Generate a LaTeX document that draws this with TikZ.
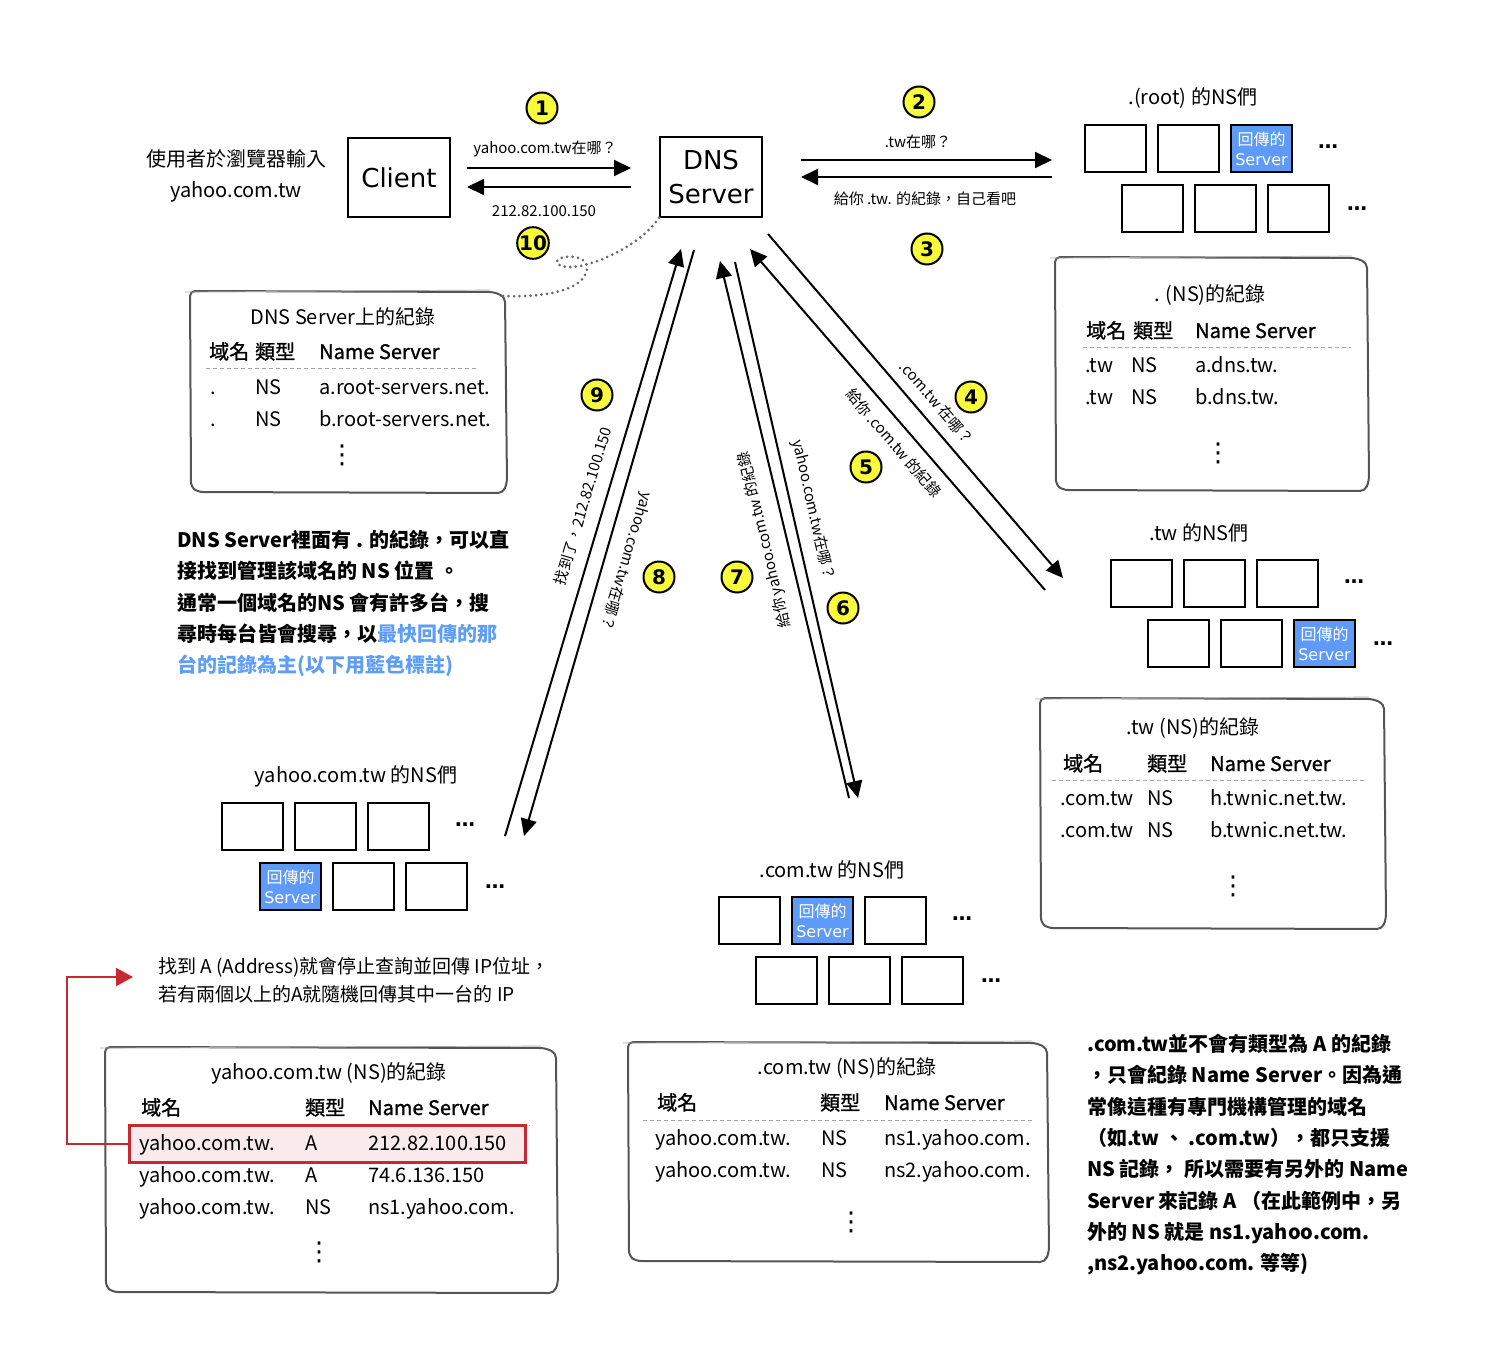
\documentclass[tikz,border=0pt]{standalone}
\usepackage{fontspec}
\setmainfont{Noto Sans CJK TC}
\newfontfamily\dvfont{DejaVu Sans}
\newfontfamily\hdrfont{Noto Sans CJK TC}[FakeBold=1.2]
\usetikzlibrary{arrows.meta, positioning}
\definecolor{numyellow}{RGB}{250,250,60}
\definecolor{retblue}{RGB}{94,155,248}
\definecolor{noteblue}{RGB}{95,158,245}
\definecolor{hitred}{RGB}{200,40,50}
\definecolor{hitpink}{RGB}{249,234,235}
\definecolor{framegray}{RGB}{85,85,85}
\definecolor{memogray}{RGB}{105,105,105}
\tikzstyle{hostbox} = [rectangle, draw=black, line width=2pt, minimum width=102pt, minimum height=79pt, inner sep=0pt, align=center, font=\dvfont\fontsize{26}{34}\selectfont]
\tikzstyle{nsbox} = [rectangle, draw=black, line width=2pt, minimum width=61pt, minimum height=47pt, inner sep=0pt]
\tikzstyle{retbox} = [nsbox, fill=retblue, text=white, align=center, font=\fontsize{16}{20}\selectfont]
\tikzstyle{dotsmore} = [inner sep=0pt, font=\dvfont\bfseries\fontsize{20}{24}\selectfont]
\tikzstyle{numbadge} = [circle, draw=black, line width=2pt, fill=numyellow, minimum size=31pt, inner sep=0pt, font=\dvfont\bfseries\fontsize{20}{24}\selectfont]
\tikzstyle{arrow} = [line width=2pt, -{Triangle[length=17pt, width=16pt]}]
\tikzstyle{hlabel} = [inner sep=0pt, font=\fontsize{15}{18}\selectfont]
\tikzstyle{groupname} = [inner sep=0pt, font=\fontsize{20}{24}\selectfont]
\tikzstyle{rectitle} = [inner sep=0pt, font=\fontsize{20}{24}\selectfont]
\tikzstyle{cell} = [anchor=base west, inner sep=0pt, font=\fontsize{20}{24}\selectfont]
\tikzstyle{headcell} = [cell, font=\hdrfont\fontsize{20}{24}\selectfont]
\tikzstyle{vdots} = [inner sep=0pt, font=\dvfont\fontsize{26}{30}\selectfont]
\tikzstyle{recframe} = [draw=framegray, line width=2pt, rounded corners=5pt]
\tikzstyle{sepline} = [draw=gray!70, line width=0.8pt, dash pattern=on 4pt off 3pt]
\tikzstyle{notetext} = [anchor=north west, inner sep=0pt, align=left, font=\bfseries\fontsize{20}{31.3}\selectfont]
\tikzstyle{memo} = [draw=memogray, line width=3pt, dash pattern=on 0pt off 5.5pt, line cap=round]
\newcommand{\sketchbox}[4]{%
  \draw[recframe] (#1,#2-1) -- (#3-12,#2) -- (#3-1,#2+5) -- (#3+1,#4-10) -- (#3-3,#4) -- (#1+8,#4-1) -- (#1+1,#4-6) -- cycle;
  \draw[draw=gray!70, line width=0.7pt] (#1-5,#2) -- (#3-16,#2-2);
}

\begin{document}
\begin{tikzpicture}[x=1pt, y=-1pt]
\useasboundingbox (0,0) rectangle (1495,1367);

% Client and local DNS server
\node (user) [align=center, font=\fontsize{20}{31}\selectfont] at (236,176) {使用者於瀏覽器輸入\\yahoo.com.tw};
\node (client) [hostbox] at (399,177.5) {Client};
\node (dns) [hostbox] at (711,177) {DNS\\Server};

% Client <-> DNS Server
\coordinate (q1from) at (467,168);
\coordinate (q1to) at (631,168);
\coordinate (a10from) at (631,187);
\coordinate (a10to) at (467,187);
\draw [arrow] (q1from) -- (q1to);
\draw [arrow] (a10from) -- (a10to);
\node (q1lbl) [hlabel] at (545,149) {yahoo.com.tw在哪？};
\node (a10lbl) [hlabel] at (544,211) {212.82.100.150};

% DNS Server <-> root
\coordinate (q2from) at (801,160);
\coordinate (q2to) at (1052,160);
\coordinate (a3from) at (1052,177);
\coordinate (a3to) at (801,177);
\draw [arrow] (q2from) -- (q2to);
\draw [arrow] (a3from) -- (a3to);
\node (q2lbl) [hlabel] at (918,142) {.tw在哪？};
\node (a3lbl) [hlabel] at (925,199) {給你 .tw. 的紀錄，自己看吧};

% root NS group
\node (rootname) [groupname] at (1193,98) {.(root) 的NS們};
\node (root1) [nsbox] at (1115.5,148.5) {};
\node (root2) [nsbox, right=10pt of root1] {};
\node (root3) [retbox, right=10pt of root2] {回傳的\\{\dvfont Server}};
\node (rootmore1) [dotsmore, right=25pt of root3, yshift=2pt] {…};
\node (root4) [nsbox] at (1152.5,208.5) {};
\node (root5) [nsbox, right=10pt of root4] {};
\node (root6) [nsbox, right=10pt of root5] {};
\node (rootmore2) [dotsmore, right=17pt of root6] {…};

% .tw NS group
\node (twname) [groupname] at (1199,533) {.tw 的NS們};
\node (tw1) [nsbox] at (1141.5,583.5) {};
\node (tw2) [nsbox, right=10pt of tw1] {};
\node (tw3) [nsbox, right=10pt of tw2] {};
\node (twmore1) [dotsmore, right=25pt of tw3, yshift=2pt] {…};
\node (tw4) [nsbox] at (1178.5,643.5) {};
\node (tw5) [nsbox, right=10pt of tw4] {};
\node (tw6) [retbox, right=10pt of tw5] {回傳的\\{\dvfont Server}};
\node (twmore2) [dotsmore, right=17pt of tw6] {…};

% yahoo.com.tw NS group
\node (yhname) [groupname] at (356,776) {yahoo.com.tw 的NS們};
\node (yh1) [nsbox] at (252.5,826.5) {};
\node (yh2) [nsbox, right=10pt of yh1] {};
\node (yh3) [nsbox, right=10pt of yh2] {};
\node (yhmore1) [dotsmore, right=25pt of yh3, yshift=2pt] {…};
\node (yh4) [retbox] at (290.5,886.5) {回傳的\\{\dvfont Server}};
\node (yh5) [nsbox, right=10pt of yh4] {};
\node (yh6) [nsbox, right=10pt of yh5] {};
\node (yhmore2) [dotsmore, right=17pt of yh6] {…};

% .com.tw NS group
\node (cmname) [groupname] at (832,870) {.com.tw 的NS們};
\node (cm1) [nsbox] at (749.5,920.5) {};
\node (cm2) [retbox, right=10pt of cm1] {回傳的\\{\dvfont Server}};
\node (cm3) [nsbox, right=10pt of cm2] {};
\node (cmmore1) [dotsmore, right=25pt of cm3, yshift=2pt] {…};
\node (cm4) [nsbox] at (786.5,980.5) {};
\node (cm5) [nsbox, right=10pt of cm4] {};
\node (cm6) [nsbox, right=10pt of cm5] {};
\node (cmmore2) [dotsmore, right=17pt of cm6] {…};

% long query / answer arrows
\coordinate (dnsq4) at (768,234);
\coordinate (twq4) at (1063,578);
\coordinate (twa5) at (1045,590);
\coordinate (dnsa5) at (750,249);
\coordinate (dnsq6) at (735,262);
\coordinate (cmq6) at (858,798);
\coordinate (cma7) at (849,798);
\coordinate (dnsa7) at (720,261);
\coordinate (dnsq8) at (694,250);
\coordinate (yhq8) at (524,836);
\coordinate (yha9) at (505,836);
\coordinate (dnsa9) at (681,249);
\draw [arrow] (dnsq4) -- (twq4);
\draw [arrow] (twa5) -- (dnsa5);
\draw [arrow] (dnsq6) -- (cmq6);
\draw [arrow] (cma7) -- (dnsa7);
\draw [arrow] (dnsq8) -- (yhq8);
\draw [arrow] (yha9) -- (dnsa9);
\node (q4lbl) [hlabel, rotate=-49.4] at (937,403) {.com.tw 在哪？};
\node (a5lbl) [hlabel, rotate=-49.4] at (894,443) {給你 .com.tw 的紀錄};
\node (q6lbl) [hlabel, rotate=-77] at (813,510) {yahoo.com.tw在哪？};
\node (a7lbl) [hlabel, rotate=103.5] at (765,540) {給你 yahoo.com.tw 的紀錄};
\node (q8lbl) [hlabel, rotate=-106.7] at (626,561) {yahoo.com.tw在哪？};
\node (a9lbl) [hlabel, rotate=73.3] at (583,506) {找到了，212.82.100.150};

% step numbers
\node (n1) [numbadge] at (542,108) {1};
\node (n2) [numbadge] at (919,102) {2};
\node (n3) [numbadge] at (927,249) {3};
\node (n4) [numbadge] at (971,397) {4};
\node (n5) [numbadge] at (866,467) {5};
\node (n6) [numbadge] at (843,608) {6};
\node (n7) [numbadge] at (737,577) {7};
\node (n8) [numbadge] at (659,577) {8};
\node (n9) [numbadge] at (597,395) {9};
\node (n10) [numbadge] at (533,243) {10};

% records kept on the DNS Server
\sketchbox{190}{292}{506}{493}
\coordinate (dnsrecTR) at (503,296);
\draw [memo] (dns.south west) .. controls (645,240) and (610,258) .. (588,264) .. controls (570,270) and (555,266) .. (557,261) .. controls (560,255) and (585,254) .. (587,266) .. controls (588,285) and (560,298) .. (dnsrecTR);
\node (dnstitle) [rectitle] at (343,317) {DNS Server上的紀錄};
\node (dnsh1) [headcell] at (209,359) {域名};
\node (dnsh2) [headcell] at (255,359) {類型};
\node (dnsh3) [headcell] at (319,359) {Name Server};
\draw [sepline] (206,368) -- (476,368);
\node (dnsr1a) [cell] at (210,394) {.};
\node (dnsr1b) [cell] at (255,394) {NS};
\node (dnsr1c) [cell] at (319,394) {a.root-servers.net.};
\node (dnsr2a) [cell] at (210,426) {.};
\node (dnsr2b) [cell] at (255,426) {NS};
\node (dnsr2c) [cell] at (319,426) {b.root-servers.net.};
\node (dnsmore) [vdots] at (342,455) {⋮};

% root records
\sketchbox{1055}{258}{1368}{491}
\node (roottitle) [rectitle] at (1210,295) {. (NS)的紀錄};
\node (rooth1) [headcell] at (1086,338) {域名};
\node (rooth2) [headcell] at (1133,338) {類型};
\node (rooth3) [headcell] at (1195,338) {Name Server};
\draw [sepline] (1083,347) -- (1351,347);
\node (rootr1a) [cell] at (1085,372) {.tw};
\node (rootr1b) [cell] at (1131,372) {NS};
\node (rootr1c) [cell] at (1195,372) {a.dns.tw.};
\node (rootr2a) [cell] at (1085,404) {.tw};
\node (rootr2b) [cell] at (1131,404) {NS};
\node (rootr2c) [cell] at (1195,404) {b.dns.tw.};
\node (rootmore) [vdots] at (1218,453) {⋮};

% .tw records
\sketchbox{1040}{699}{1385}{929}
\node (twtitle) [rectitle] at (1193,728) {.tw (NS)的紀錄};
\node (twh1) [headcell] at (1063,771) {域名};
\node (twh2) [headcell] at (1147,771) {類型};
\node (twh3) [headcell] at (1210,771) {Name Server};
\draw [sepline] (1052,780) -- (1366,780);
\node (twr1a) [cell] at (1060,805) {.com.tw};
\node (twr1b) [cell] at (1147,805) {NS};
\node (twr1c) [cell] at (1210,805) {h.twnic.net.tw.};
\node (twr2a) [cell] at (1060,837) {.com.tw};
\node (twr2b) [cell] at (1147,837) {NS};
\node (twr2c) [cell] at (1210,837) {b.twnic.net.tw.};
\node (twmore) [vdots] at (1233,886) {⋮};

% .com.tw records
\sketchbox{628}{1043}{1048}{1262}
\node (cmtitle) [rectitle] at (847,1068) {.com.tw (NS)的紀錄};
\node (cmh1) [headcell] at (657,1110) {域名};
\node (cmh2) [headcell] at (820,1110) {類型};
\node (cmh3) [headcell] at (884,1110) {Name Server};
\draw [sepline] (643,1120) -- (1035,1120);
\node (cmr1a) [cell] at (655,1145) {yahoo.com.tw.};
\node (cmr1b) [cell] at (821,1145) {NS};
\node (cmr1c) [cell] at (884,1145) {ns1.yahoo.com.};
\node (cmr2a) [cell] at (655,1177) {yahoo.com.tw.};
\node (cmr2b) [cell] at (821,1177) {NS};
\node (cmr2c) [cell] at (884,1177) {ns2.yahoo.com.};
\node (cmmore) [vdots] at (851,1222) {⋮};

% yahoo.com.tw records
\sketchbox{105}{1048}{557}{1293}
\node (yhtitle) [rectitle] at (329,1073) {yahoo.com.tw (NS)的紀錄};
\node (yhh1) [headcell] at (141,1115) {域名};
\node (yhh2) [headcell] at (305,1115) {類型};
\node (yhh3) [headcell] at (368,1115) {Name Server};
\draw [sepline] (130,1125) -- (530,1125);
\node (hit) [draw=hitred, line width=3pt, fill=hitpink, minimum width=396pt, minimum height=37pt, inner sep=0pt] at (327.5,1143.5) {};
\node (yhr1a) [cell] at (139,1150) {yahoo.com.tw.};
\node (yhr1b) [cell] at (305,1150) {A};
\node (yhr1c) [cell] at (368,1150) {212.82.100.150};
\node (yhr2a) [cell] at (139,1182) {yahoo.com.tw.};
\node (yhr2b) [cell] at (305,1182) {A};
\node (yhr2c) [cell] at (368,1182) {74.6.136.150};
\node (yhr3a) [cell] at (139,1214) {yahoo.com.tw.};
\node (yhr3b) [cell] at (305,1214) {NS};
\node (yhr3c) [cell] at (368,1214) {ns1.yahoo.com.};
\node (yhmore) [vdots] at (319,1252) {⋮};

% found the A record
\node (foundnote) [anchor=north west, inner sep=0pt, align=left, font=\fontsize{19}{28}\selectfont] at (158,957) {找到 A (Address)就會停止查詢並回傳 IP位址，\\若有兩個以上的A就隨機回傳其中一台的 IP};
\coordinate (foundtip) at (133,977);
\draw [hitred, line width=2pt, -{Triangle[length=17pt, width=18pt]}] (hit.west) -- ++(-61,0) |- (foundtip);

% notes
\node (dnsnote) [notetext] at (177,530) {DNS Server裡面有 . 的紀錄，可以直\\接找到管理該域名的 NS 位置 。\\通常一個域名的NS 會有許多台，搜\\尋時每台皆會搜尋，以\textcolor{noteblue}{最快回傳的那}\\\textcolor{noteblue}{台的記錄為主(以下用藍色標註)}};
\node (comnote) [notetext] at (1087,1034) {.com.tw並不會有類型為 A 的紀錄\\，只會紀錄 Name Server。因為通\\常像這種有專門機構管理的域名\\（如.tw 、 .com.tw），都只支援\\NS 記錄， 所以需要有另外的 Name\\Server 來記錄 A （在此範例中，另\\外的 NS 就是 ns1.yahoo.com.\\,ns2.yahoo.com. 等等)};

\end{tikzpicture}
\end{document}
